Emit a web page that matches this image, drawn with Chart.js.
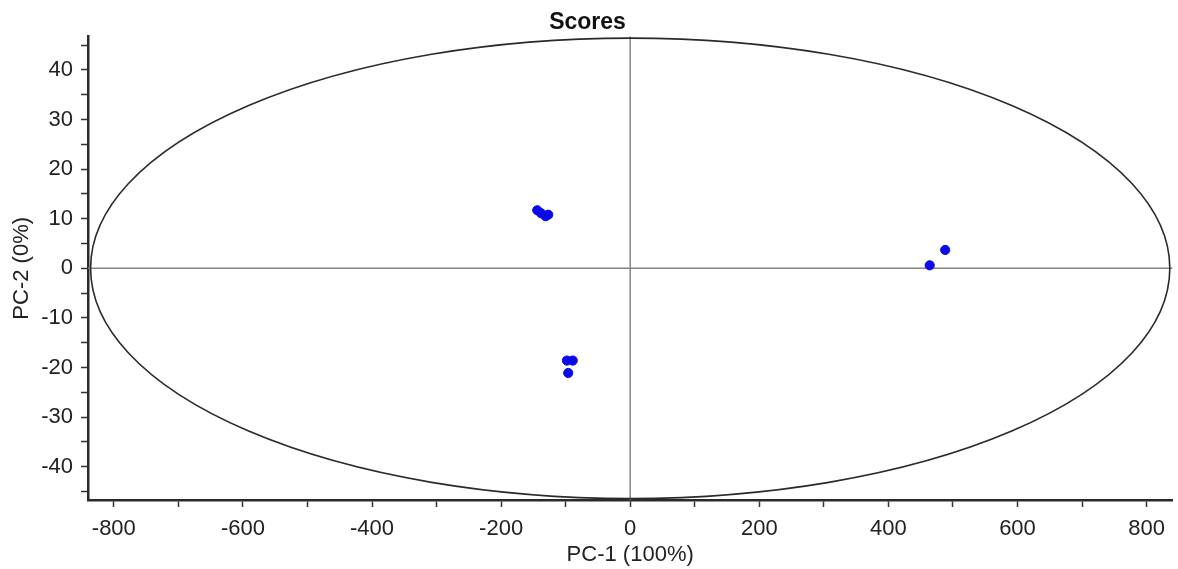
<!DOCTYPE html>
<html>
<head>
<meta charset="utf-8">
<title>Scores</title>
<script src="https://cdn.jsdelivr.net/npm/chart.js@4/dist/chart.umd.min.js"></script>
<style>
  html, body { margin: 0; padding: 0; background: #fff; }
  #scoresChart { display: block; }
</style>
</head>
<body>
<canvas id="scoresChart" width="1178" height="569"></canvas>
<script>
// score values
const pc1 = [-144, -138, -131, -127, -98, -89, -96, 488, 464];
const pc2 = [11.7, 11.1, 10.5, 10.8, -18.6, -18.6, -21.1, 3.7, 0.6];

// Hotelling ellipse half-axes
const ellipsePc1 = 836;
const ellipsePc2 = 46.4;

const xTicks = [-800, -700, -600, -500, -400, -300, -200, -100, 0, 100, 200, 300, 400, 500, 600, 700, 800];
const xLabels = [-800, -600, -400, -200, 0, 200, 400, 600, 800];
const yTicks = [-45, -40, -35, -30, -25, -20, -15, -10, -5, 0, 5, 10, 15, 20, 25, 30, 35, 40, 45];
const yLabels = [-40, -30, -20, -10, 0, 10, 20, 30, 40];

const FONT = "'Liberation Sans', Arial, sans-serif";

const ellipsePlugin = {
  id: "ellipse",
  beforeDatasetsDraw(chart) {
    const { ctx, chartArea: a, scales: { x, y } } = chart;
    const cx = x.getPixelForValue(0);
    const cy = y.getPixelForValue(0);
    ctx.save();
    // zero lines
    ctx.strokeStyle = "#858585";
    ctx.lineWidth = 1.5;
    ctx.beginPath();
    ctx.moveTo(a.left, cy);
    ctx.lineTo(a.right, cy);
    ctx.moveTo(cx, a.top);
    ctx.lineTo(cx, a.bottom);
    ctx.stroke();
    // ellipse
    const rx = x.getPixelForValue(ellipsePc1) - cx;
    const ry = cy - y.getPixelForValue(ellipsePc2);
    ctx.strokeStyle = "#2a2a2a";
    ctx.lineWidth = 1.6;
    ctx.beginPath();
    ctx.ellipse(cx, cy, rx, ry, 0, 0, Math.PI * 2);
    ctx.stroke();
    ctx.restore();
  }
};

const ctx = document.getElementById("scoresChart").getContext("2d");

new Chart(ctx, {
  type: "scatter",
  data: {
    datasets: [{
      data: pc1.map((v, i) => ({ x: v, y: pc2[i] })),
      backgroundColor: "#0a0ae6",
      borderColor: "#0a0ae6",
      pointRadius: 4.6,
      pointHoverRadius: 4.6
    }]
  },
  options: {
    responsive: false,
    animation: false,
    layout: { padding: { left: 0, right: 3, top: 0, bottom: 0 } },
    plugins: {
      legend: { display: false },
      tooltip: { enabled: false },
      title: {
        display: true,
        text: "Scores",
        color: "#111",
        font: { family: FONT, size: 23, weight: "bold" },
        padding: { top: 9, bottom: 0 }
      }
    },
    scales: {
      x: {
        type: "linear",
        min: -840,
        max: 840,
        afterBuildTicks(axis) {
          axis.ticks = xTicks.map(v => ({ value: v }));
        },
        afterFit(axis) { axis.height = 69; },
        border: { display: true, color: "#2a2a2a", width: 2.5 },
        grid: { drawOnChartArea: false, drawTicks: true, tickLength: 7, tickColor: "#333", tickWidth: 1.5 },
        ticks: {
          autoSkip: false,
          maxRotation: 0,
          padding: 9,
          color: "#222",
          font: { family: FONT, size: 22 },
          callback: v => xLabels.includes(v) ? String(v) : ""
        },
        title: {
          display: true,
          text: "PC-1 (100%)",
          color: "#222",
          font: { family: FONT, size: 22 },
          padding: { top: 0, bottom: 1 }
        }
      },
      y: {
        type: "linear",
        min: -46.7,
        max: 46.7,
        afterBuildTicks(axis) {
          axis.ticks = yTicks.map(v => ({ value: v }));
        },
        afterFit(axis) { axis.width = 88; },
        border: { display: true, color: "#2a2a2a", width: 2.5 },
        grid: { drawOnChartArea: false, drawTicks: true, tickLength: 7, tickColor: "#333", tickWidth: 1.5 },
        ticks: {
          autoSkip: false,
          padding: 8,
          color: "#222",
          font: { family: FONT, size: 22 },
          callback: v => yLabels.includes(v) ? String(v) : ""
        },
        title: {
          display: true,
          text: "PC-2 (0%)",
          color: "#222",
          font: { family: FONT, size: 22 },
          padding: { top: 9, bottom: 0 }
        }
      }
    }
  },
  plugins: [ellipsePlugin]
});
</script>
</body>
</html>
